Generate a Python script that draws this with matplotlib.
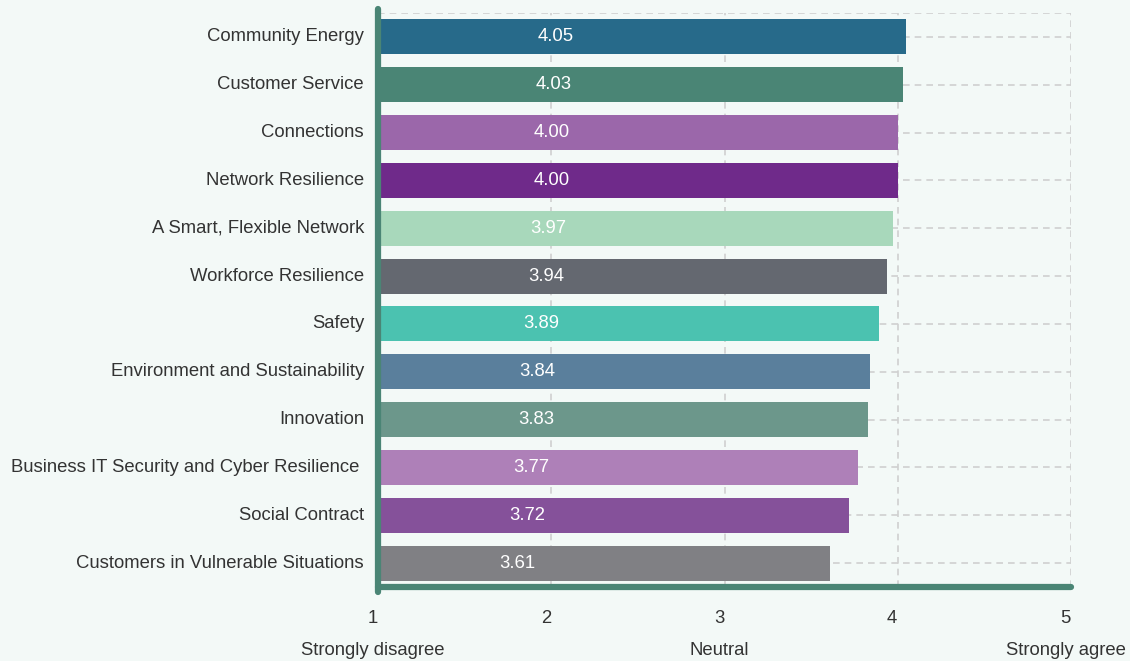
import numpy as np
import matplotlib.pyplot as plt

categories = ["Community Energy", "Customer Service", "Connections", "Network Resilience",
              "A Smart, Flexible Network", "Workforce Resilience", "Safety",
              "Environment and Sustainability", "Innovation",
              "Business IT Security and Cyber Resilience ", "Social Contract",
              "Customers in Vulnerable Situations"]
scores = [4.05, 4.03, 4.00, 4.00, 3.97, 3.94, 3.89, 3.84, 3.83, 3.77, 3.72, 3.61]
colors = ["#276a8a", "#4a8575", "#9b67aa", "#6f2a8a", "#a8d8bb", "#646870",
          "#4bc2b0", "#5a7f9c", "#6c978b", "#ae80b8", "#85519a", "#808084"]
ticks = [1, 2, 3, 4, 5]
tick_words = {1: "Strongly disagree", 3: "Neutral", 5: "Strongly agree"}

bg = "#f3f9f7"
green = "#4a8575"
txt = "#333333"
fs = 13.3
plt.rcParams["font.family"] = ["Liberation Sans", "DejaVu Sans"]

fig = plt.figure(figsize=(11.3, 6.61), dpi=100, facecolor=bg)
ax = fig.add_axes([378 / 1130, 74 / 661, 693 / 1130, 574 / 661], facecolor=bg)

y = np.arange(len(categories))
ax.set_xlim(1, 5)
ax.set_ylim(len(categories) - 0.5, -0.5)

# dashed grid behind the bars
for t in ticks[1:]:
    ax.axvline(t, color="#d0d0d0", ls=(0, (4, 3)), lw=1.2, zorder=0)
for yy in list(y) + [-0.5]:
    ax.axhline(yy, color="#d0d0d0", ls=(0, (4, 3)), lw=1.2, zorder=0)

ax.barh(y, [s - 1 for s in scores], left=1, height=0.73, color=colors, zorder=2)
for yy, s in zip(y, scores):
    ax.text(s / 2, yy, f"{s:.2f}", ha="center", va="center", color="white",
            fontsize=fs, zorder=3)

for sp in ax.spines.values():
    sp.set_visible(False)
ax.set_xticks([])
ax.set_yticks([])

# thick axis lines
ax.plot([1, 1], [len(categories) - 0.4, -0.58], color=green, lw=4.5,
        solid_capstyle="round", clip_on=False, zorder=4)
ax.plot([1, 5], [len(categories) - 0.5, len(categories) - 0.5], color=green, lw=4.5,
        solid_capstyle="round", clip_on=False, zorder=4)

for yy, c in zip(y, categories):
    ax.annotate(c, (1, yy), xytext=(-10, 0), textcoords="offset points",
                ha="right", va="center", fontsize=fs, color=txt)

for t in ticks:
    ax.annotate(str(t), (t, len(categories) - 0.5), xytext=(-4, -23),
                textcoords="offset points", ha="center", va="center",
                fontsize=fs, color=txt, annotation_clip=False)
    if t in tick_words:
        ax.annotate(tick_words[t], (t, len(categories) - 0.5), xytext=(-4, -46),
                    textcoords="offset points", ha="center", va="center",
                    fontsize=fs, color=txt, annotation_clip=False)

fig.savefig("out.png", dpi=100, facecolor=bg)
